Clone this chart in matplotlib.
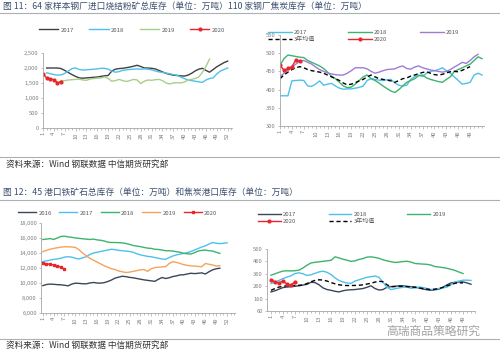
import numpy as np
import matplotlib
matplotlib.use("Agg")
import matplotlib.pyplot as plt
from matplotlib.ticker import FuncFormatter

plt.rcParams['font.family'] = ['Noto Sans CJK SC', 'DejaVu Sans']

# ---------- data ----------
# fig 11 left: sintering fines inventory at 64 mills (10k t), by week
tl_2017 = [2000, 2000, 2000, 2000, 1980, 1920, 1850, 1780, 1720, 1670, 1660, 1670, 1680, 1690,
           1700, 1720, 1740, 1750, 1900, 1960, 1980, 1990, 2010, 2030, 2060, 2090, 2050, 2000,
           2000, 1990, 1970, 1920, 1870, 1820, 1790, 1760, 1750, 1740, 1730, 1760, 1820, 1900,
           1960, 1990, 1920, 1860, 1950, 2040, 2110, 2180, 2230]
tl_2018 = [1840, 1810, 1780, 1765, 1770, 1820, 1900, 1980, 2000, 1950, 1930, 1940, 1950, 1960,
           1970, 1990, 1990, 1960, 1900, 1860, 1880, 1920, 1940, 1950, 1960, 1970, 1960, 1970,
           1960, 1940, 1900, 1870, 1850, 1830, 1810, 1780, 1760, 1700, 1650, 1600, 1580, 1560,
           1540, 1520, 1600, 1650, 1670, 1800, 1900, 1950, 2000]
tl_2019 = [1580, 1580, 1600, 1610, 1620, 1630, 1600, 1590, 1630, 1650, 1660, 1670, 1700, 1650,
           1560, 1580, 1620, 1580, 1550, 1580, 1620, 1600, 1480, 1560, 1600, 1590, 1610, 1620,
           1580, 1500, 1470, 1500, 1510, 1500, 1530, 1600, 1620, 1650, 1700, 1850, 2050, 2300]
tl_2020 = [1800, 1670, 1640, 1610, 1510, 1550]

# fig 11 right: coke inventory at 110 mills (10k t)
tr_2017 = [383, 383, 383, 424, 425, 426, 425, 410, 409, 415, 424, 412, 415, 417, 410, 404, 401,
           402, 402, 404, 406, 410, 425, 430, 428, 426, 425, 427, 428, 418, 412, 410, 412, 428,
           436, 440, 436, 445, 450, 452, 455, 460, 452, 445, 435, 425, 415, 417, 420, 440, 445, 440]
tr_2018 = [467, 485, 495, 493, 491, 489, 488, 480, 475, 470, 465, 458, 448, 437, 430, 420, 410,
           405, 407, 415, 425, 435, 440, 430, 425, 418, 410, 403, 396, 392, 400, 410, 420, 425,
           430, 438, 440, 432, 428, 425, 422, 420, 428, 435, 450, 455, 460, 465, 470, 480, 490, 485]
tr_2019 = [435, 445, 455, 462, 470, 478, 480, 475, 470, 462, 455, 450, 446, 443, 441, 440, 440,
           445, 452, 460, 460, 460, 457, 450, 445, 448, 452, 455, 456, 457, 462, 465, 458, 456,
           462, 465, 460, 457, 454, 452, 450, 448, 450, 455, 462, 468, 475, 472, 480, 490, 497]
tr_avg = [430, 440, 448, 455, 460, 463, 460, 455, 452, 450, 448, 445, 440, 435, 430, 425, 418,
          413, 415, 419, 424, 428, 435, 440, 435, 430, 428, 426, 424, 420, 425, 430, 432, 437,
          440, 444, 447, 449, 445, 441, 440, 442, 446, 449, 450, 449, 453, 458, 463]
tr_2020 = [467, 453, 458, 463, 481, 479]

# fig 12 left: iron ore inventory at 45 ports (10k t)
bl_2016 = [9650, 9800, 9850, 9830, 9780, 9760, 9700, 9620, 9850, 9980, 9950, 9900, 9890, 10000,
           10070, 10000, 9980, 10050, 10200, 10400, 10650, 10780, 10900, 10850, 10750, 10700,
           10600, 10510, 10420, 10350, 10290, 10220, 10500, 10730, 10600, 10700, 10860, 10950,
           11080, 11100, 11200, 11300, 11250, 11300, 11350, 11200, 11500, 11750, 11900, 11970]
bl_2017 = [12850, 12950, 13050, 13150, 13200, 13300, 13450, 13500, 13450, 13300, 13200, 13350,
           13500, 13800, 14000, 14100, 14200, 14300, 14400, 14500, 14450, 14350, 14300, 14250,
           14200, 14100, 13900, 13750, 13650, 13550, 13500, 13400, 13300, 13200, 13150, 13400,
           13600, 13750, 13850, 13950, 14050, 14200, 14400, 14600, 14800, 14950, 15200, 15400,
           15300, 15250, 15300, 15350]
bl_2018 = [15800, 15850, 15930, 15800, 16000, 16200, 16240, 16150, 16100, 16000, 15950, 15900,
           15850, 15800, 15850, 15750, 15700, 15600, 15450, 15400, 15400, 15380, 15350, 15270,
           15150, 15000, 14920, 14850, 14740, 14650, 14610, 14500, 14470, 14400, 14300, 14300,
           14250, 14170, 14100, 13950, 13900, 13860, 14050, 14260, 14350, 14390, 14300, 14260,
           14100, 13950]
bl_2019 = [14170, 14350, 14500, 14610, 14700, 14780, 14830, 14830, 14800, 14750, 14450, 14000,
           13650, 13300, 13050, 12800, 12550, 12300, 12100, 11900, 11800, 11600, 11500, 11400,
           11450, 11550, 11650, 11750, 11800, 11550, 11900, 12050, 12100, 12150, 12180, 12600,
           12850, 12750, 12600, 12450, 12350, 12280, 12270, 12200, 12180, 12600, 12500, 12400,
           12270, 12300]
bl_2020 = [12630, 12550, 12500, 12400, 12300, 12100, 11850]

# fig 12 right: coke inventory at ports (10k t)
br_2017 = [213, 222, 235, 248, 252, 255, 258, 262, 268, 274, 290, 288, 270, 245, 232, 226, 218,
           213, 222, 228, 230, 232, 236, 240, 250, 262, 240, 228, 232, 250, 255, 258, 262, 262,
           258, 254, 252, 244, 236, 230, 226, 230, 235, 250, 270, 285, 290, 293, 293, 285, 274]
br_2018 = [280, 292, 305, 320, 332, 342, 360, 366, 358, 345, 350, 362, 373, 379, 370, 352, 325,
           305, 292, 285, 281, 300, 310, 320, 330, 335, 340, 330, 290, 250, 232, 238, 245, 250,
           253, 242, 245, 252, 248, 240, 232, 236, 240, 245, 252, 270, 292, 300, 307, 307, 305]
br_2019 = [347, 358, 370, 380, 382, 381, 383, 387, 405, 427, 445, 450, 454, 458, 462, 466, 494,
           485, 475, 467, 458, 462, 473, 480, 492, 494, 489, 482, 470, 462, 455, 449, 452, 456,
           459, 452, 441, 438, 436, 434, 428, 416, 412, 408, 402, 394, 385, 372, 360]
br_avg = [226, 240, 252, 258, 262, 265, 265, 266, 268, 280, 295, 305, 310, 308, 300, 288, 278,
          270, 266, 264, 264, 265, 266, 270, 276, 282, 292, 298, 295, 270, 255, 256, 258, 258,
          255, 252, 250, 245, 240, 236, 230, 235, 240, 250, 262, 272, 282, 286, 285]
br_2020 = [312, 295, 285, 300, 275, 268, 295]

week_labels = list(range(1, 53, 3))

W, H = 500, 354
fig = plt.figure(figsize=(W / 100, H / 100), dpi=100)

BLUE = '#4EC1EA'
GREEN = '#3DB36E'
LGREEN = '#A6D08A'
DARK = '#404040'
NAVY = '#3B4657'
PURPLE = '#A07BD4'
ORANGE = '#F5A35C'
RED = '#E8262A'


def add_ax(x0, y0, x1, y1):
    return fig.add_axes([x0 / W, 1 - y1 / H, (x1 - x0) / W, (y1 - y0) / H])


def style(ax, xlim, ylim, yticks, comma=False, xlabels=week_labels):
    for s in ['top', 'right']:
        ax.spines[s].set_visible(False)
    for s in ['left', 'bottom']:
        ax.spines[s].set_color('#A6A6A6')
        ax.spines[s].set_linewidth(0.6)
    ax.set_xlim(*xlim)
    ax.set_ylim(*ylim)
    ax.set_yticks(yticks)
    if comma:
        ax.yaxis.set_major_formatter(FuncFormatter(lambda v, p: f'{int(v):,}'))
    ax.set_xticks(xlabels)
    ax.set_xticklabels([str(w) for w in xlabels], rotation=90)
    ax.set_xticks(np.arange(1, int(xlim[1]) + 1), minor=True)
    ax.tick_params(axis='both', which='both', labelsize=4.2, colors='#A6A6A6',
                   labelcolor='#7F7F7F', length=1.8, width=0.5, pad=1.2)
    ax.tick_params(axis='x', which='minor', length=1.5)


def plot(ax, vals, start, **kw):
    x = np.arange(start, start + len(vals))
    return ax.plot(x, vals, **kw)[0]


def leg(handles, labels, x, y, ncol, hl, cs):
    fig.legend(handles, labels, loc='center left', bbox_to_anchor=(x / W, 1 - y / H),
               ncol=ncol, frameon=False, fontsize=4.3, handlelength=hl, handletextpad=0.4,
               columnspacing=cs, borderpad=0, borderaxespad=0, labelspacing=0.35,
               labelcolor='#595959')


lw = 1.0

# ---------- top-left ----------
ax = add_ax(43, 53, 232, 128)
h1 = plot(ax, tl_2017, 2, color=DARK, lw=lw)
h2 = plot(ax, tl_2018, 2, color=BLUE, lw=lw)
h3 = plot(ax, tl_2019, 6, color=LGREEN, lw=lw)
h4 = plot(ax, tl_2020, 1, color=RED, lw=lw, marker='o', ms=2)
style(ax, (1, 53.2), (0, 2500), range(0, 2501, 500), comma=True)
leg([h1, h2, h3, h4], ['2017', '2018', '2019', '2020'], 39, 30, 4, 3.2, 2.6)

# ---------- top-right ----------
ax = add_ax(280, 35, 484, 126)
h1 = plot(ax, tr_2017, 1, color=BLUE, lw=lw)
h2 = plot(ax, tr_2018, 1, color=GREEN, lw=lw)
h3 = plot(ax, tr_2019, 1, color=PURPLE, lw=lw)
h5 = plot(ax, tr_avg, 1, color='black', lw=lw, ls=(0, (3, 2)))
h4 = plot(ax, tr_2020, 1, color=RED, lw=lw, marker='o', ms=2)
style(ax, (1, 52.5), (300, 550), range(300, 551, 50), xlabels=list(range(1, 50, 3)))
leg([h1, h5, h2, h4, h3], ['2017', '3年均值', '2018', '2020', '2019'], 268, 36, 3, 4.0, 5.4)

# ---------- bottom-left ----------
ax = add_ax(41, 223, 235, 313)
h1 = plot(ax, bl_2016, 1, color=NAVY, lw=lw)
h2 = plot(ax, bl_2017, 1, color=BLUE, lw=lw)
h3 = plot(ax, bl_2018, 1, color=GREEN, lw=lw)
h4 = plot(ax, bl_2019, 1, color=ORANGE, lw=lw)
h5 = plot(ax, bl_2020, 1, color=RED, lw=lw, marker='s', ms=1.8)
style(ax, (0.5, 54.2), (6000, 18000), range(6000, 18001, 2000), comma=True)
leg([h1, h2, h3, h4, h5], ['2016', '2017', '2018', '2019', '2020'], 18, 213, 5, 3.0, 1.3)

# ---------- bottom-right ----------
ax = add_ax(267, 248.6, 475, 311)
h1 = plot(ax, br_2017, 1, color=NAVY, lw=lw)
h2 = plot(ax, br_2018, 1, color=BLUE, lw=lw)
h3 = plot(ax, br_2019, 1, color=GREEN, lw=lw)
h5 = plot(ax, br_avg, 1, color='black', lw=lw, ls=(0, (3, 2)))
h4 = plot(ax, br_2020, 1, color=RED, lw=lw, marker='o', ms=2)
style(ax, (0, 52), (60, 560), range(60, 561, 100), xlabels=list(range(1, 50, 3)))
leg([h1, h4, h2, h5, h3], ['2017', '2020', '2018', '3年均值', '2019'], 258, 218, 3, 3.8, 5.4)

# ---------- text and rules ----------
HEAD = '#3A4E6E'
fig.text(3 / W, 1 - 6 / H, '图 11：64 家样本钢厂进口烧结粉矿总库存（单位：万吨）110 家钢厂焦炭库存（单位：万吨）',
         fontsize=6.3, color=HEAD, va='center')
fig.text(3 / W, 1 - 192 / H, '图 12：45 港口铁矿石总库存（单位：万吨）和焦炭港口库存（单位：万吨）',
         fontsize=6.3, color=HEAD, va='center')
for y in [164, 345]:
    fig.text(6 / W, 1 - y / H, '资料来源：Wind 钢联数据 中信期货研究部',
             fontsize=6.2, color='#333333', va='center')
for y in [13, 157, 200, 339]:
    fig.add_artist(plt.Line2D([0, 1], [1 - y / H] * 2, color='#A9B0B8', lw=0.8,
                              transform=fig.transFigure))

fig.text(386 / W, 1 - 331 / H, '高瑞商品策略研究', fontsize=8.5, color='#8C8C8C', va='center', alpha=0.8)

fig.savefig('out.png', dpi=100)
